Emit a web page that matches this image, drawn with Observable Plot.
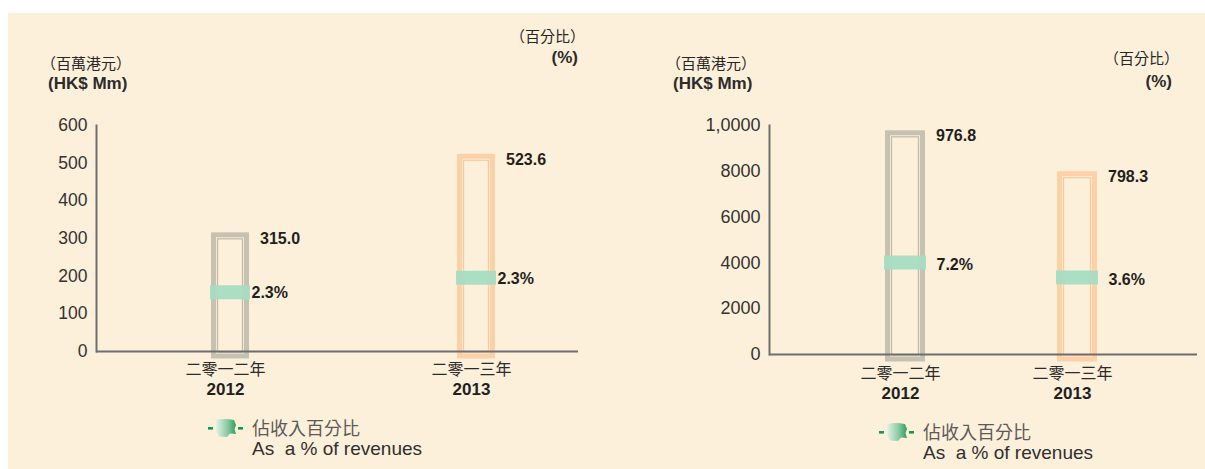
<!DOCTYPE html>
<html><head><meta charset="utf-8">
<script src="https://cdn.jsdelivr.net/npm/d3@7"></script>
<script src="https://cdn.jsdelivr.net/npm/@observablehq/plot@0.6"></script>
<style>
body{margin:0;background:#fff;width:1205px;height:469px;overflow:hidden;position:relative;font-family:"Liberation Sans",Arial,sans-serif;}
#bg{position:absolute;left:8px;top:13px;width:1197px;height:456px;background:#fdf0da;}
.panel{position:absolute;top:0;}
.lbl{position:absolute;white-space:nowrap;color:#333;line-height:1;transform:translateY(-50%);}
.zh{font-family:"Noto Sans CJK TC","Noto Sans CJK SC",sans-serif;font-size:15px;color:#262626;}
.b{font-family:"Liberation Sans",Arial,sans-serif;font-weight:bold;font-size:17px;color:#2b2b2b;}
.leg{position:absolute;white-space:nowrap;line-height:19px;}
.legzh{font-family:"Noto Sans CJK TC","Noto Sans CJK SC",sans-serif;font-size:18px;color:#5a5a5a;}
.legen{font-family:"Liberation Sans",Arial,sans-serif;font-size:19px;color:#2f2f2f;}
.mk{position:absolute;}
</style>
</head><body>
<div id="bg"></div>
<div id="left" class="panel" style="left:0px"></div>
<div id="right" class="panel" style="left:600px"></div>

<div class="lbl zh" style="left:41px;top:62px">（百萬港元）</div>
<div class="lbl b" style="left:48px;top:83px">(HK$ Mm)</div>
<div class="lbl zh" style="right:620px;top:35px">（百分比）</div>
<div class="lbl b" style="right:627px;top:57px">(%)</div>

<div class="lbl zh" style="left:666px;top:62px">（百萬港元）</div>
<div class="lbl b" style="left:673px;top:83px">(HK$ Mm)</div>
<div class="lbl zh" style="right:26px;top:57px">（百分比）</div>
<div class="lbl b" style="right:33px;top:81px">(%)</div>

<div id="legL"></div>
<div id="legR"></div>

<script>
// ---- data ----
const years = ["2012", "2013"];
const yearLabelsZh = ["二零一二年", "二零一三年"];

// left chart (HK$ Mm)
const leftValues = [315.0, 523.6];
const leftPct = [2.3, 2.3];
const leftBandLevel = [157, 196];          // where the % marker sits, read on the HK$ axis
const leftTicks = [0, 100, 200, 300, 400, 500, 600];
const leftTickLabels = ["0", "100", "200", "300", "400", "500", "600"];

// right chart (HK$ Mm)
const rightValues = [976.8, 798.3];
const rightPct = [7.2, 3.6];
const rightBandLevel = [402, 336];
const rightTicks = [0, 200, 400, 600, 800, 1000];
const rightTickLabels = ["0", "2000", "4000", "6000", "8000", "1,0000"];

const legendZh = "佔收入百分比";
const legendEn = "As\u00a0 a % of revenues";

// ---- styles ----
const barStroke = {"2012": "#c7c1b2", "2013": "#fcd1a8"};
const barInner = {"2012": "#b5ae9f", "2013": "#f7c290"};
const axisColor = "#6d6e70";

function rows(values, pct, band) {
  return years.map((y, i) => ({year: y, zh: yearLabelsZh[i], value: values[i], pct: pct[i], band: band[i]}));
}

function panel(cfg) {
  const data = rows(cfg.values, cfg.pct, cfg.band);
  return Plot.plot({
    width: cfg.width, height: 469,
    marginTop: cfg.marginTop, marginBottom: cfg.marginBottom,
    marginLeft: cfg.marginLeft, marginRight: cfg.marginRight,
    style: {background: "transparent", fontFamily: "Liberation Sans, Arial, sans-serif", fontSize: "17.5px", color: "#333", overflow: "visible"},
    x: {type: "band", domain: years, paddingInner: cfg.pi, paddingOuter: cfg.po, align: cfg.align, axis: null},
    y: {domain: [0, cfg.max], axis: null},
    marks: [
      Plot.axisY({ticks: cfg.ticks, tickSize: 0, tickPadding: 9, fontSize: cfg.tickFont,
                  tickFormat: d => cfg.tickLabels[cfg.ticks.indexOf(d)]}),
      Plot.frame({anchor: "left", stroke: axisColor, strokeWidth: 2}),
      Plot.barY(data, {x: "year", y: "value", fill: "none", stroke: d => barStroke[d.year],
                       strokeWidth: 5, insetLeft: 2.5, insetRight: 2.5, insetTop: 2.5, insetBottom: -5}),
      Plot.barY(data, {x: "year", y: "value", fill: "none", stroke: d => barInner[d.year],
                       strokeWidth: 1.3, strokeOpacity: 0.8, inset: 6.5, insetBottom: -1}),
      Plot.tickY(data, {x: "year", y: "band", stroke: "#a6dcc1", strokeWidth: 14, strokeOpacity: 0.95, inset: -1}),
      Plot.ruleY([0], {stroke: axisColor, strokeWidth: 2}),
      Plot.text(data, {x: "year", y: "value", text: d => d.value.toFixed(1), textAnchor: "start",
                       dx: cfg.valDx, dy: cfg.valDy, fontWeight: "bold", fontSize: 16, fill: "#231f20"}),
      Plot.text(data, {x: "year", y: "band", text: d => d.pct.toFixed(1) + "%", textAnchor: "start",
                       dx: cfg.pctDx, dy: cfg.pctDy, fontWeight: "bold", fontSize: 16, fill: "#231f20"}),
      Plot.text(data, {x: "year", frameAnchor: "bottom", text: "zh", dx: cfg.xDx, dy: cfg.zhDy,
                       fontFamily: "Noto Sans CJK TC, Noto Sans CJK SC, sans-serif", fontSize: 16, fill: "#2b2b2b"}),
      Plot.text(data, {x: "year", frameAnchor: "bottom", text: "year", dx: cfg.xDx, dy: cfg.yrDy,
                       fontWeight: "bold", fontSize: 17, fill: "#231f20"})
    ]
  });
}

document.getElementById("left").appendChild(panel({
  values: leftValues, pct: leftPct, band: leftBandLevel, ticks: leftTicks, tickLabels: leftTickLabels,
  max: 600, width: 600, marginTop: 125, marginBottom: 118, marginLeft: 96, marginRight: 22,
  pi: 0.846, po: 0.399, align: 0.581, tickFont: 17.5,
  valDx: 29.5, valDy: 6, pctDx: 21, pctDy: 1, xDx: -5, zhDy: 23, yrDy: 43
}));

document.getElementById("right").appendChild(panel({
  values: rightValues, pct: rightPct, band: rightBandLevel, ticks: rightTicks, tickLabels: rightTickLabels,
  max: 1000, width: 605, marginTop: 125, marginBottom: 115, marginLeft: 169, marginRight: 8,
  pi: 0.769, po: 0.6215, align: 0.537, tickFont: 18,
  valDx: 30.5, valDy: 5, pctDx: 31, pctDy: 2, xDx: -5, zhDy: 24, yrDy: 44
}));

function legend(id, left, top) {
  const el = document.getElementById(id);
  el.innerHTML = `
  <svg class="mk" style="left:${left}px;top:${top - 11}px" width="38" height="22" viewBox="0 0 38 22">
    <defs><linearGradient id="g${id}" x1="0" x2="1" y1="0" y2="0">
      <stop offset="0" stop-color="#e4f2e6"/><stop offset="0.55" stop-color="#8fcca6"/><stop offset="1" stop-color="#2f9d60"/>
    </linearGradient></defs>
    <rect x="0" y="10" width="5" height="2.6" fill="#0f9a52"/>
    <path d="M8,3 Q17,1 26,3 L28,8 L26.5,12 L28,17 L22,16.5 L19,20 L11,19.5 L8,14 Z" fill="url(#g${id})"/>
    <rect x="30" y="10" width="5" height="2.6" fill="#0f9a52"/>
  </svg>
  <div class="leg" style="left:${left + 44}px;top:${top - 10}px"><span class="legzh">${legendZh}</span><br><span class="legen">${legendEn}</span></div>`;
}
legend("legL", 208, 428);
legend("legR", 879, 432);
</script>
</body></html>
